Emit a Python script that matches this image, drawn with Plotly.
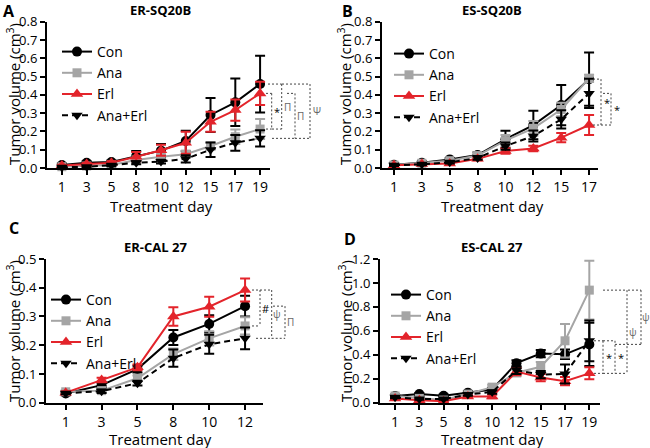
import plotly.graph_objects as go

W, H = 650, 448

# ---------------- data ----------------
days_A = [1, 3, 5, 8, 10, 12, 15, 17, 19]
con_A = [0.016, 0.029, 0.033, 0.066, 0.095, 0.148, 0.290, 0.359, 0.459]
ana_A = [0.007, 0.011, 0.016, 0.044, 0.062, 0.075, 0.120, 0.171, 0.213]
erl_A = [0.013, 0.022, 0.029, 0.062, 0.097, 0.138, 0.253, 0.317, 0.408]
combo_A = [0.004, 0.007, 0.015, 0.029, 0.035, 0.050, 0.100, 0.138, 0.162]
con_A_err = [0.008, 0.008, 0.008, 0.027, 0.036, 0.056, 0.093, 0.130, 0.155]
ana_A_err = [0.004, 0.005, 0.006, 0.010, 0.012, 0.020, 0.020, 0.040, 0.055]
erl_A_err = [0.005, 0.006, 0.008, 0.025, 0.030, 0.060, 0.055, 0.058, 0.064]
combo_A_err = [0.003, 0.004, 0.005, 0.008, 0.010, 0.020, 0.040, 0.043, 0.045]

days_B = [1, 3, 5, 8, 10, 12, 15, 17]
con_B = [0.018, 0.029, 0.047, 0.071, 0.157, 0.235, 0.344, 0.486]
ana_B = [0.016, 0.026, 0.040, 0.068, 0.150, 0.217, 0.320, 0.490]
erl_B = [0.015, 0.022, 0.025, 0.050, 0.093, 0.107, 0.166, 0.235]
combo_B = [0.015, 0.020, 0.031, 0.055, 0.120, 0.175, 0.266, 0.408]
con_B_err = [0.006, 0.006, 0.008, 0.015, 0.047, 0.078, 0.110, 0.146]
ana_B_err = [0.005, 0.006, 0.008, 0.012, 0.030, 0.040, 0.037, 0.020]
erl_B_err = [0.004, 0.005, 0.006, 0.008, 0.015, 0.015, 0.025, 0.055]
combo_B_err = [0.004, 0.005, 0.006, 0.010, 0.020, 0.030, 0.050, 0.080]

days_C = [1, 3, 5, 8, 10, 12]
con_C = [0.032, 0.061, 0.117, 0.227, 0.274, 0.336]
ana_C = [0.038, 0.042, 0.085, 0.169, 0.224, 0.267]
erl_C = [0.035, 0.079, 0.123, 0.300, 0.334, 0.392]
combo_C = [0.033, 0.040, 0.068, 0.155, 0.203, 0.224]
con_C_err = [0.006, 0.008, 0.012, 0.026, 0.030, 0.036]
ana_C_err = [0.005, 0.006, 0.010, 0.020, 0.025, 0.030]
erl_C_err = [0.005, 0.008, 0.010, 0.032, 0.035, 0.040]
combo_C_err = [0.004, 0.006, 0.008, 0.030, 0.033, 0.038]

days_D = [1, 3, 5, 8, 10, 12, 15, 17, 19]
con_D = [0.056, 0.072, 0.058, 0.084, 0.110, 0.330, 0.410, 0.404, 0.487]
ana_D = [0.056, 0.036, 0.022, 0.072, 0.130, 0.250, 0.300, 0.517, 0.940]
erl_D = [0.036, 0.020, 0.012, 0.052, 0.052, 0.260, 0.210, 0.180, 0.245]
combo_D = [0.045, 0.030, 0.030, 0.068, 0.090, 0.270, 0.235, 0.240, 0.517]
con_D_err = [0.010, 0.010, 0.010, 0.012, 0.015, 0.025, 0.030, 0.040, 0.180]
ana_D_err = [0.010, 0.008, 0.008, 0.010, 0.020, 0.030, 0.040, 0.140, 0.245]
erl_D_err = [0.008, 0.006, 0.006, 0.010, 0.015, 0.030, 0.030, 0.035, 0.050]
combo_D_err = [0.008, 0.006, 0.006, 0.010, 0.015, 0.030, 0.030, 0.080, 0.170]

series_names = ["Con", "Ana", "Erl", "Ana+Erl"]
panel_letters = ["A", "B", "C", "D"]
panel_titles = ["ER-SQ20B", "ES-SQ20B", "ER-CAL 27", "ES-CAL 27"]
x_title = "Treatment day"
y_title = "Tumor volume (cm<sup>3</sup>)"

# ---------------- styles ----------------
FONT = "Open Sans"
colors = ["#000000", "#a5a5a5", "#e3242b", "#000000"]
symbols = ["circle", "square", "triangle-up", "triangle-down"]
sizes = [10, 9, 11, 10]
dashes = ["solid", "solid", "solid", "6px,4px"]

# pixel boxes of the four plot areas: left, right, top, bottom
boxes = [(47, 270, 21.7, 168), (382, 598, 21.7, 168),
         (46, 263, 259, 402.7), (380, 600, 259, 402.7)]
xranges = [[-0.6, 8.4], [-0.43, 7.32], [-0.55, 5.5], [-0.62, 8.44]]
ymaxes = [0.8, 0.8, 0.5, 1.2]
dticks = [0.1, 0.1, 0.1, 0.2]

panels = [
    (days_A, [con_A, ana_A, erl_A, combo_A], [con_A_err, ana_A_err, erl_A_err, combo_A_err]),
    (days_B, [con_B, ana_B, erl_B, combo_B], [con_B_err, ana_B_err, erl_B_err, combo_B_err]),
    (days_C, [con_C, ana_C, erl_C, combo_C], [con_C_err, ana_C_err, erl_C_err, combo_C_err]),
    (days_D, [con_D, ana_D, erl_D, combo_D], [con_D_err, ana_D_err, erl_D_err, combo_D_err]),
]

# significance brackets: (label, top value, bottom value, x_top_start, x_bottom_start, x_vertical, x_label, colour)
GR = "#666666"
brackets = [
    [("*", erl_A[-1], ana_A[-1], 266, 266, 271.7, 276.5, "#000"),
     ("Π", con_A[-1], ana_A[-1], 268, 272, 281.7, 287.5, GR),
     ("Π", erl_A[-1], combo_A[-1], 287, 272, 295, 300.5, GR),
     ("Ψ", con_A[-1], combo_A[-1], 282, 295, 310, 316.5, GR)],
    [("*", con_B[-1], erl_B[-1], 593, 593, 601, 606.5, "#000"),
     ("*", combo_B[-1], erl_B[-1], 603, 601, 611, 617, "#000")],
    [("#", erl_C[-1], ana_C[-1], 252, 252, 260, 265.5, "#000"),
     ("ψ", erl_C[-1], combo_C[-1], 260, 256, 271.7, 277, GR),
     ("Π", con_C[-1], combo_C[-1], 273, 271.7, 285, 290.5, GR)],
    [("*", combo_D[-1], erl_D[-1], 594, 594, 603, 609, "#000"),
     ("*", combo_D[-1], erl_D[-1], 603, 603, 615, 620.5, "#000"),
     ("ψ", ana_D[-1], erl_D[-1], 603, 615, 627, 633, GR),
     ("ψ", ana_D[-1], con_D[-1], 628, 615, 641, 646, GR)],
]

title_pos = [(160, 10), (492, 10), (155, 247), (492, 247)]
letter_pos = [(2, 11), (341, 11), (8, 228), (343, 239)]
xtitle_pos = [(161, 206), (492, 206), (160, 439), (492, 439)]
ytitle_pos = [(13, 94), (344, 94), (13, 331), (345, 331)]
legend_pos = [(57, 36), (389, 38), (46, 284), (386, 279)]

fig = go.Figure()
layout = dict(template="none", width=W, height=H, margin=dict(l=0, r=0, t=0, b=0, autoexpand=False),
              plot_bgcolor="white", paper_bgcolor="white",
              font=dict(family=FONT, color="black"), showlegend=True)
annotations = []
shapes = []

for p in range(4):
    days, vals, errs = panels[p]
    cats = [str(d) for d in days]
    sfx = "" if p == 0 else str(p + 1)
    xa, ya = "x" + sfx, "y" + sfx
    lg = "legend" + sfx
    left, right, top, bottom = boxes[p]
    for s in range(4):
        fig.add_trace(go.Scatter(
            x=cats, y=vals[s], name=series_names[s], mode="lines+markers",
            xaxis=xa, yaxis=ya, legend=lg, cliponaxis=False,
            line=dict(color=colors[s], width=2, dash=dashes[s]),
            marker=dict(symbol=symbols[s], size=sizes[s], color=colors[s],
                        line=dict(width=0)),
            error_y=dict(type="data", array=errs[s], visible=True,
                         color=colors[s], thickness=2, width=5),
        ))
    axis_common = dict(showline=True, linecolor="black", linewidth=2, automargin=False,
                       ticks="outside", ticklen=5, tickwidth=1.5, tickcolor="black",
                       showgrid=False, zeroline=False)
    layout["xaxis" + sfx] = dict(axis_common, type="category", categoryorder="array",
                                 categoryarray=cats, range=xranges[p], anchor=ya,
                                 domain=[left / W, right / W],
                                 tickfont=dict(size=14, family=FONT))
    layout["yaxis" + sfx] = dict(axis_common, range=[0, ymaxes[p]], dtick=dticks[p],
                                 tick0=0, tickformat=".1f", anchor=xa,
                                 domain=[1 - bottom / H, 1 - top / H],
                                 tickfont=dict(size=13, family=FONT))
    lx, ly = legend_pos[p]
    layout[lg] = dict(x=lx / W, y=1 - ly / H, xref="paper", yref="paper",
                      xanchor="left", yanchor="top", bgcolor="rgba(0,0,0,0)",
                      font=dict(size=14, family=FONT), tracegroupgap=0,
                      itemclick=False, itemdoubleclick=False)

    # titles & labels
    tx, ty = title_pos[p]
    annotations.append(dict(text="<b>%s</b>" % panel_titles[p], x=tx / W, y=1 - ty / H,
                            xref="paper", yref="paper", showarrow=False,
                            xanchor="center", yanchor="middle",
                            font=dict(size=13, family=FONT)))
    cx, cy = letter_pos[p]
    annotations.append(dict(text="<b>%s</b>" % panel_letters[p], x=cx / W, y=1 - cy / H,
                            xref="paper", yref="paper", showarrow=False,
                            xanchor="left", yanchor="middle", borderpad=0,
                            font=dict(size=16, family=FONT)))
    ax_, ay_ = xtitle_pos[p]
    annotations.append(dict(text=x_title, x=ax_ / W, y=1 - ay_ / H,
                            xref="paper", yref="paper", showarrow=False,
                            xanchor="center", yanchor="middle",
                            font=dict(size=15, family=FONT)))
    bx, by = ytitle_pos[p]
    annotations.append(dict(text=y_title, x=bx / W, y=1 - by / H, textangle=-90,
                            xref="paper", yref="paper", showarrow=False,
                            xanchor="center", yanchor="middle",
                            font=dict(size=15, family=FONT)))

    # brackets
    wpx = right - left
    ymax = ymaxes[p]
    for (lab, vt, vb, xt0, xb0, xv, xl, col) in brackets[p]:
        ft, fb = vt / ymax, vb / ymax
        fx = lambda px: (px - left) / wpx
        line = dict(color="#444444", width=1, dash="2px,2px")
        ref = dict(xref=xa + " domain", yref=ya + " domain")
        shapes.append(dict(type="line", x0=fx(xt0), x1=fx(xv), y0=ft, y1=ft, line=line, **ref))
        shapes.append(dict(type="line", x0=fx(xb0), x1=fx(xv), y0=fb, y1=fb, line=line, **ref))
        shapes.append(dict(type="line", x0=fx(xv), x1=fx(xv), y0=ft, y1=fb, line=line, **ref))
        annotations.append(dict(text=lab, x=fx(xl), y=(ft + fb) / 2, showarrow=False,
                                xanchor="center", yanchor="middle",
                                font=dict(size=11 if lab in "*#" else 10, color=col, family=FONT),
                                **ref))

layout["annotations"] = annotations
layout["shapes"] = shapes
fig.update_layout(**layout)
fig.write_html("out.html", config={"displayModeBar": False},
               post_script="document.body.style.margin='0';document.body.style.overflow='hidden';")
